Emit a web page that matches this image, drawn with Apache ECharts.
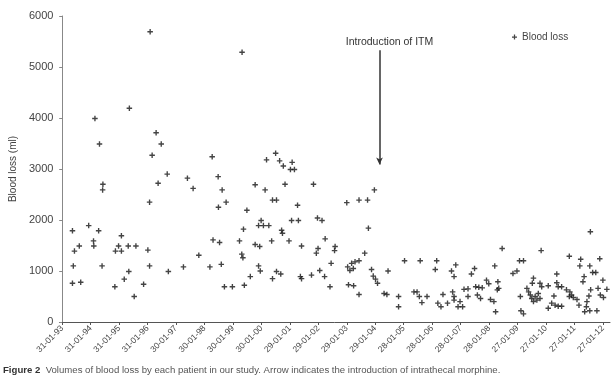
<!DOCTYPE html>
<html>
<head>
<meta charset="utf-8">
<script src="https://cdn.jsdelivr.net/npm/echarts@6/dist/echarts.min.js"></script>
<style>
  html, body { margin: 0; padding: 0; background: #fff; }
  #chart { width: 616px; height: 376px; }
</style>
</head>
<body>
<div id="chart"></div>
<script>
// x = years after 31-01-93 (first tick), y = blood loss in ml
const yearsFromStart = [
  0.36, 0.36, 0.39, 0.43, 0.60, 0.65, 0.93, 1.10, 1.11, 1.15, 1.28, 1.31, 1.40, 1.42, 1.43,
  1.85, 1.87, 1.98, 2.08, 2.08, 2.18, 2.32, 2.34, 2.36, 2.53, 2.59, 2.86, 3.01, 3.07, 3.07,
  3.09, 3.16, 3.30, 3.37, 3.48, 3.69, 3.73, 4.26, 4.40, 4.60, 4.80, 5.19, 5.27, 5.30, 5.48,
  5.49, 5.53, 5.59, 5.62, 5.70, 5.76, 5.98, 6.23, 6.31, 6.32, 6.35, 6.37, 6.40, 6.49, 6.61,
  6.78, 6.78, 6.90, 6.90, 6.94, 6.96, 6.99, 7.07, 7.13, 7.18, 7.26, 7.36, 7.39, 7.39, 7.50,
  7.53, 7.53, 7.64, 7.68, 7.71, 7.74, 7.77, 7.83, 7.97, 8.02, 8.06, 8.08, 8.16, 8.27, 8.30,
  8.37, 8.41, 8.41, 8.76, 8.83, 8.93, 8.97, 8.99, 9.05, 9.13, 9.22, 9.24, 9.41, 9.45, 9.57,
  9.59, 10.00, 10.03, 10.06, 10.11, 10.17, 10.23, 10.24, 10.29, 10.43, 10.43, 10.43, 10.63, 10.73, 10.76,
  10.87, 10.93, 10.97, 11.01, 11.08, 11.31, 11.41, 11.45, 11.82, 11.82, 12.03, 12.36, 12.47, 12.55, 12.58,
  12.64, 12.82, 13.11, 13.16, 13.20, 13.31, 13.38, 13.54, 13.68, 13.72, 13.77, 13.77, 13.77, 13.83, 13.91,
  13.98, 14.07, 14.12, 14.26, 14.26, 14.38, 14.49, 14.53, 14.59, 14.64, 14.70, 14.76, 14.91, 14.99, 15.05,
  15.17, 15.20, 15.23, 15.29, 15.31, 15.34, 15.46, 15.84, 15.98, 16.07, 16.10, 16.12, 16.21, 16.21, 16.33,
  16.39, 16.45, 16.50, 16.52, 16.56, 16.56, 16.62, 16.68, 16.73, 16.79, 16.79, 16.83, 16.85, 17.08, 17.08,
  17.20, 17.28, 17.32, 17.38, 17.38, 17.43, 17.43, 17.55, 17.55, 17.72, 17.82, 17.82, 17.84, 17.90, 17.96,
  18.09, 18.16, 18.19, 18.22, 18.30, 18.34, 18.36, 18.42, 18.44, 18.51, 18.54, 18.54, 18.56, 18.57, 18.64,
  18.75, 18.79, 18.83, 18.89, 18.91, 19.00, 19.02, 19.14
];
const bloodLoss = [
  760, 1790, 1100, 1390, 1490, 780, 1890, 1590, 1490, 3990, 1790, 3490, 1100, 2590, 2700,
  690, 1390, 1490, 1690, 1390, 840, 1490, 990, 4190, 500, 1490, 740, 1410, 1100, 2350,
  5690, 3270, 3710, 2720, 3490, 2900, 990, 1080, 2820, 2620, 1310, 1080, 3240, 1610, 2850,
  2250, 1560, 1130, 2590, 690, 2350, 690, 1590, 1330, 5290, 1260, 1820, 720, 2190, 890,
  2690, 1520, 1890, 1100, 1480, 1000, 1990, 1890, 2590, 3180, 1890, 1590, 2390, 850, 3310,
  2390, 990, 3160, 940, 1800, 1740, 3060, 2700, 1590, 2990, 1990, 3130, 2990, 2290, 1990,
  890, 850, 1490, 920, 2700, 1350, 2040, 1440, 1010, 1990, 890, 1630, 690, 1150, 1400,
  1480, 2340, 1080, 730, 1010, 1150, 1050, 710, 1180, 2390, 1200, 540, 1350, 2390, 1840,
  1030, 900, 2590, 840, 760, 560, 540, 1000, 500, 300, 1200, 590, 590, 500, 1200,
  380, 500, 1030, 1200, 370, 300, 540, 370, 1000, 590, 890, 500, 430, 1120, 300,
  400, 300, 640, 650, 500, 940, 1050, 690, 530, 680, 460, 670, 820, 750, 440,
  400, 1100, 200, 630, 790, 660, 1440, 950, 1000, 1200, 500, 220, 1200, 160, 660,
  590, 530, 460, 760, 400, 860, 500, 430, 560, 460, 760, 1400, 690, 710, 270,
  370, 510, 330, 940, 770, 310, 690, 310, 690, 630, 1290, 500, 590, 530, 480,
  440, 330, 1100, 1230, 790, 890, 200, 300, 400, 510, 220, 1100, 1770, 630, 970,
  970, 220, 660, 1240, 530, 820, 480, 640
];
const tickLabels = [
  '31-01-93', '31-01-94', '31-01-95', '31-01-96', '30-01-97', '30-01-98', '30-01-99',
  '30-01-00', '29-01-01', '29-01-02', '29-01-03', '29-01-04', '28-01-05', '28-01-06',
  '28-01-07', '28-01-08', '27-01-09', '27-01-10', '27-01-11', '27-01-12'
];
const tickPositions = tickLabels.map((_, i) => i);

// arrow marking introduction of ITM
const itmYear = 11.15;
const arrowFrom = 5330;
const arrowTo = 3090;

const plusMark = 'path://M3,0H5V3H8V5H5V8H3V5H0V3H3Z';
const textColor = '#444';

const chart = echarts.init(document.getElementById('chart'));
chart.setOption({
  animation: false,
  backgroundColor: '#fff',
  textStyle: { fontFamily: 'Liberation Sans, Arial, sans-serif' },
  grid: { left: 55, right: 6, top: 16, bottom: 54 },
  legend: {
    data: ['Blood loss'],
    left: 507,
    top: 27,
    icon: plusMark,
    itemWidth: 5,
    itemHeight: 5,
    itemGap: 4,
    textStyle: { fontSize: 10, color: textColor }
  },
  xAxis: {
    type: 'value',
    min: -0.1,
    max: 19.25,
    axisLine: { lineStyle: { color: '#555', width: 1 } },
    axisTick: { show: true, length: 3, customValues: tickPositions, lineStyle: { color: '#555' } },
    axisLabel: {
      customValues: tickPositions,
      rotate: 45,
      hideOverlap: false,
      fontSize: 8.5,
      color: textColor,
      margin: 5,
      formatter: v => tickLabels[Math.round(v)]
    },
    splitLine: { show: false }
  },
  yAxis: {
    type: 'value',
    min: 0,
    max: 6000,
    interval: 1000,
    name: 'Blood loss (ml)',
    nameLocation: 'middle',
    nameGap: 40,
    nameTextStyle: { fontSize: 10, color: textColor },
    axisLine: { show: true, lineStyle: { color: '#888' } },
    axisTick: { show: true, length: 3, lineStyle: { color: '#888' } },
    axisLabel: { fontSize: 11, color: textColor, margin: 6, formatter: v => String(v) },
    splitLine: { show: false }
  },
  series: [
    {
      name: 'Blood loss',
      type: 'scatter',
      symbol: plusMark,
      symbolSize: 5.5,
      itemStyle: { color: '#151515' },
      data: yearsFromStart.map((t, i) => [t, bloodLoss[i]]),
      markLine: {
        silent: true,
        symbol: ['none', 'arrow'],
        symbolSize: [5, 7],
        lineStyle: { color: '#333', width: 1.5, type: 'solid' },
        label: {
          show: true,
          position: 'start',
          formatter: 'Introduction of ITM',
          fontSize: 10.5,
          color: '#333',
          distance: 3,
          offset: [10, 0]
        },
        data: [[{ coord: [itmYear, arrowFrom] }, { coord: [itmYear, arrowTo] }]]
      }
    }
  ],
  graphic: [
    {
      type: 'text',
      left: 3,
      top: 365,
      style: {
        text: '{b|Figure 2}  Volumes of blood loss by each patient in our study. Arrow indicates the introduction of intrathecal morphine.',
        fontSize: 9.6,
        fill: '#555',
        rich: { b: { fontSize: 9.6, fontWeight: 'bold', fill: '#333' } }
      }
    }
  ]
});
</script>
</body>
</html>
